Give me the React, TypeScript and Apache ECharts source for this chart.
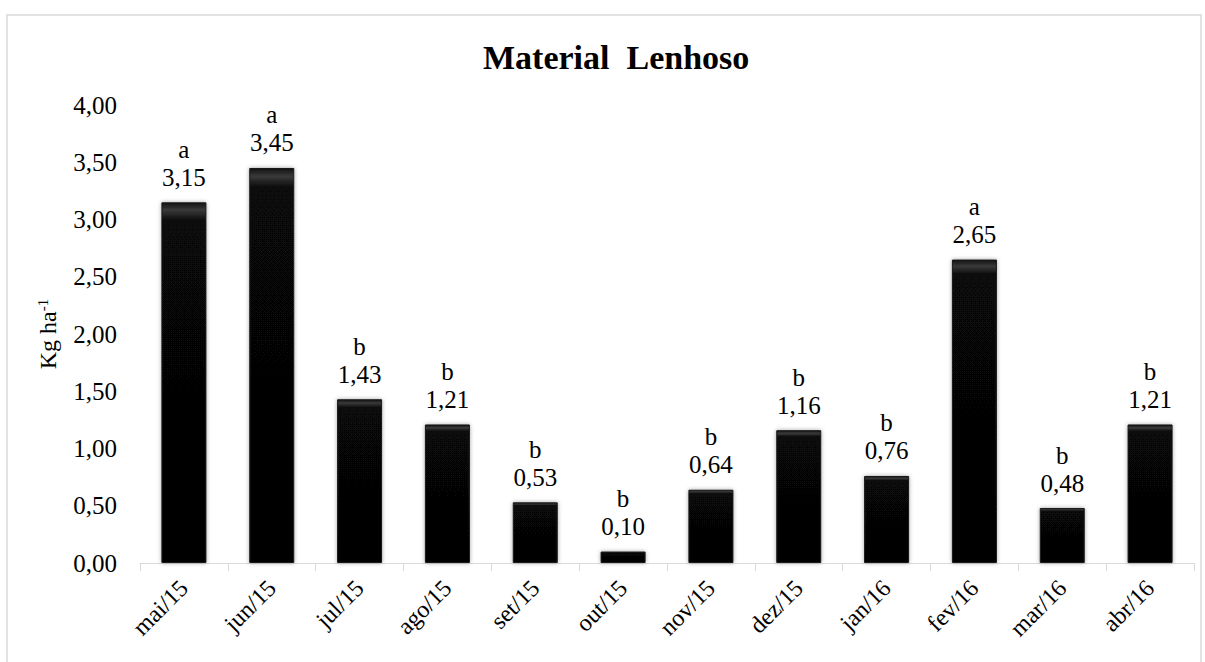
import React, { useEffect, useRef } from "react";
import * as echarts from "echarts";

const categories = ["mai/15", "jun/15", "jul/15", "ago/15", "set/15", "out/15", "nov/15", "dez/15", "jan/16", "fev/16", "mar/16", "abr/16"];
const values = [3.15, 3.45, 1.43, 1.21, 0.53, 0.10, 0.64, 1.16, 0.76, 2.65, 0.48, 1.21];
const letters = ["a", "a", "b", "b", "b", "b", "b", "b", "b", "a", "b", "b"];

const fmt = (v: number) => v.toFixed(2).replace(".", ",");
const FONT = "Liberation Serif";

export default function App() {
  const ref = useRef<HTMLDivElement>(null);
  useEffect(() => {
    document.body.style.margin = "0";
    const chart = echarts.init(ref.current!, null, { renderer: "svg" });
    chart.setOption({
      animation: false,
      backgroundColor: "#ffffff",
      textStyle: { fontFamily: FONT },
      title: {
        text: "Material  Lenhoso",
        left: 478,
        top: 35,
        textStyle: { fontFamily: FONT, fontSize: 34, fontWeight: "bold", color: "#000" },
      },
      graphic: [
        {
          type: "rect",
          shape: { x: 7, y: 15, width: 1194, height: 700 },
          style: { fill: "none", stroke: "#d9d9d9", lineWidth: 1.5 },
          silent: true,
        },
      ],
      grid: { left: 140, right: 11, top: 105, bottom: 99 },
      xAxis: {
        type: "category",
        data: categories,
        boundaryGap: true,
        axisLine: { show: true, lineStyle: { color: "#d9d9d9", width: 1 } },
        axisTick: { show: true, alignWithLabel: false, length: 8, lineStyle: { color: "#d9d9d9" } },
        axisLabel: { rotate: 45, fontFamily: FONT, fontSize: 24, color: "#000", margin: 21 },
      },
      yAxis: {
        type: "value",
        min: 0,
        max: 4,
        interval: 0.5,
        name: "{n|Kg ha}{s|-1}",
        nameLocation: "middle",
        nameGap: 80,
        nameRotate: 90,
        nameTextStyle: {
          rich: {
            n: { fontFamily: FONT, fontSize: 24, color: "#000" },
            s: { fontFamily: FONT, fontSize: 15, color: "#000", verticalAlign: "top", padding: [0, 0, 10, 0] },
          },
        },
        axisLine: { show: false },
        axisTick: { show: false },
        splitLine: { show: false },
        axisLabel: { fontFamily: FONT, fontSize: 25, color: "#000", margin: 23, formatter: (v: number) => fmt(v) },
      },
      series: [
        {
          type: "bar",
          data: values,
          barWidth: 45,
          itemStyle: {
            color: {
              type: "linear",
              x: 0, y: 0, x2: 0, y2: 1,
              colorStops: [
                { offset: 0, color: "#111" },
                { offset: 0.02, color: "#3a3a3a" },
                { offset: 0.05, color: "#070707" },
                { offset: 1, color: "#050505" },
              ],
            },
            borderColor: "#1a1a1a",
            borderWidth: 1,
            shadowBlur: 4,
            shadowColor: "rgba(0,0,0,0.35)",
          },
          label: {
            show: true,
            position: "top",
            distance: 11,
            fontFamily: FONT,
            fontSize: 25,
            lineHeight: 28,
            color: "#000",
            align: "center",
            formatter: (p: any) => letters[p.dataIndex] + "\n" + fmt(p.value),
          },
        },
      ],
    });
    return () => chart.dispose();
  }, []);
  return <div ref={ref} style={{ width: 1205, height: 662 }} />;
}
